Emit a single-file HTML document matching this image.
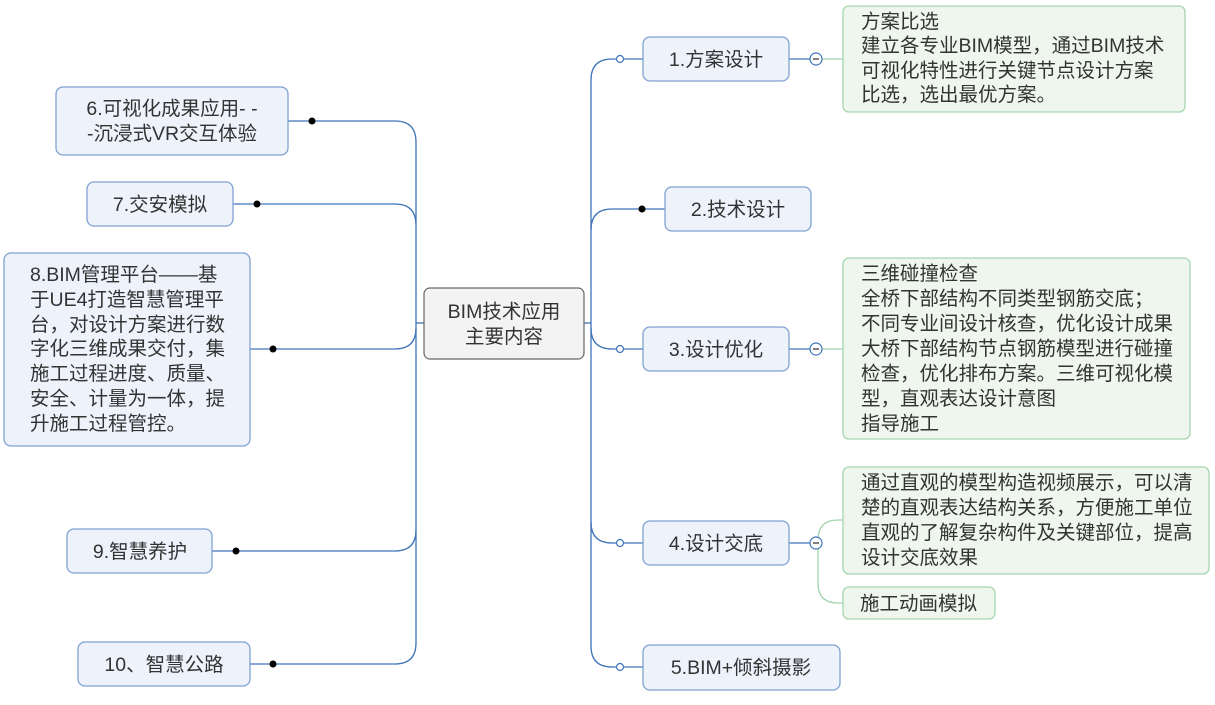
<!DOCTYPE html>
<html><head><meta charset="utf-8"><style>
body{margin:0;background:#fff}
svg text{font-family:"Liberation Sans","Noto Sans CJK SC",sans-serif;font-size:19.5px;fill:#333}
</style></head><body>
<svg width="1215" height="700" xmlns="http://www.w3.org/2000/svg">
<g fill="none" stroke="#3f74b8" stroke-width="1.3">
<path d="M584 323 H591"/>
<path d="M643 59 H612 Q591 59 591 80 V646 Q591 667 612 667 H643"/>
<path d="M665 209 H612 Q591 209 591 230"/>
<path d="M643 349 H612 Q591 349 591 328"/>
<path d="M643 543 H612 Q591 543 591 522"/>
<path d="M789 59 H810"/><path d="M789 349 H810"/><path d="M789 543 H810"/>
<path d="M424 323 H416"/>
<path d="M288 121 H395 Q416 121 416 142 V643 Q416 664 395 664 H250"/>
<path d="M233 204 H395 Q416 204 416 225"/>
<path d="M250 349 H395 Q416 349 416 328"/>
<path d="M212 551 H395 Q416 551 416 530"/>
</g>
<g fill="none" stroke="#9fd4ac" stroke-width="1.3">
<path d="M822 59 H843"/><path d="M822 349 H843"/>
<path d="M843 520 H838 Q818 520 818 540 V583 Q818 603 838 603 H843"/>
</g>
<g fill="#fff" stroke="#3f74b8" stroke-width="1.2">
<circle cx="620" cy="59" r="3.5"/><circle cx="620" cy="349" r="3.5"/><circle cx="620" cy="543" r="3.5"/><circle cx="620" cy="667" r="3.5"/>
<circle cx="816" cy="59" r="6"/><circle cx="816" cy="349" r="6"/><circle cx="816" cy="543" r="6"/>
</g>
<g stroke="#555" stroke-width="1.5"><path d="M813 59h6M813 349h6M813 543h6"/></g>
<g fill="#000"><circle cx="642" cy="209" r="3.5"/><circle cx="312" cy="121" r="3.5"/><circle cx="257" cy="204" r="3.5"/><circle cx="273" cy="349" r="3.5"/><circle cx="236" cy="551" r="3.5"/><circle cx="273" cy="664" r="3.5"/></g>
<rect x="424" y="288" width="160" height="71" rx="6" fill="#f3f3f3" stroke="#666" stroke-width="1.2"/>
<text x="504" y="318" text-anchor="middle">BIM技术应用</text>
<text x="504" y="343" text-anchor="middle">主要内容</text>
<g fill="#eef3fb" stroke="#7fa2d2" stroke-width="1.3">
<rect x="643" y="37" width="146" height="44" rx="7"/>
<rect x="665" y="187" width="146" height="44" rx="7"/>
<rect x="643" y="327" width="146" height="44" rx="7"/>
<rect x="643" y="521" width="146" height="44" rx="7"/>
<rect x="643" y="645" width="197" height="45" rx="7"/>
<rect x="56" y="87" width="232" height="68" rx="7"/>
<rect x="87" y="182" width="146" height="44" rx="7"/>
<rect x="4" y="253" width="246" height="193" rx="7"/>
<rect x="67" y="529" width="145" height="44" rx="7"/>
<rect x="78" y="642" width="172" height="44" rx="7"/>
</g>
<g fill="#eef6ee" stroke="#a6d6b0" stroke-width="1.3">
<rect x="843" y="6" width="342" height="106" rx="6"/>
<rect x="843" y="258" width="347" height="181" rx="6"/>
<rect x="843" y="467" width="366" height="107" rx="6"/>
<rect x="843" y="587" width="152" height="32" rx="6"/>
</g>
<g text-anchor="middle">
<text x="716" y="66">1.方案设计</text>
<text x="738" y="216">2.技术设计</text>
<text x="716" y="356">3.设计优化</text>
<text x="716" y="550">4.设计交底</text>
<text x="741" y="674">5.BIM+倾斜摄影</text>
<text x="172" y="115">6.可视化成果应用- -</text>
<text x="172" y="140">-沉浸式VR交互体验</text>
<text x="160" y="211">7.交安模拟</text>
<text x="140" y="558">9.智慧养护</text>
<text x="164" y="671">10、智慧公路</text>
</g>
<g>
<text x="30" y="281">8.BIM管理平台——基</text>
<text x="30" y="306">于UE4打造智慧管理平</text>
<text x="30" y="331">台，对设计方案进行数</text>
<text x="30" y="355">字化三维成果交付，集</text>
<text x="30" y="380">施工过程进度、质量、</text>
<text x="30" y="405">安全、计量为一体，提</text>
<text x="30" y="430">升施工过程管控。</text>
<text x="861" y="28">方案比选</text>
<text x="861" y="52">建立各专业BIM模型，通过BIM技术</text>
<text x="861" y="77">可视化特性进行关键节点设计方案</text>
<text x="861" y="101">比选，选出最优方案。</text>
<text x="861" y="280">三维碰撞检查</text>
<text x="861" y="305">全桥下部结构不同类型钢筋交底；</text>
<text x="861" y="330">不同专业间设计核查，优化设计成果</text>
<text x="861" y="355">大桥下部结构节点钢筋模型进行碰撞</text>
<text x="861" y="380">检查，优化排布方案。三维可视化模</text>
<text x="861" y="405">型，直观表达设计意图</text>
<text x="861" y="430">指导施工</text>
<text x="861" y="489">通过直观的模型构造视频展示，可以清</text>
<text x="861" y="514">楚的直观表达结构关系，方便施工单位</text>
<text x="861" y="539">直观的了解复杂构件及关键部位，提高</text>
<text x="861" y="564">设计交底效果</text>
<text x="860" y="610">施工动画模拟</text>
</g>
</svg>
</body></html>
